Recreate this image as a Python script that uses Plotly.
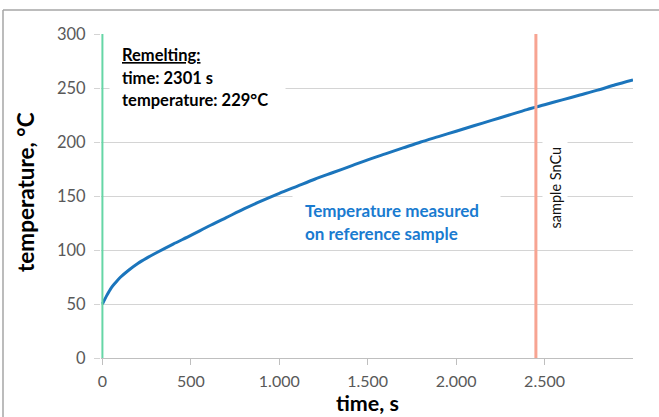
import plotly.graph_objects as go

# ---- data ----
time_s = [0, 25, 50, 75, 100, 150, 200, 250, 300, 400, 500, 600, 700, 800, 900,
          1000, 1100, 1200, 1300, 1400, 1500, 1600, 1700, 1800, 1900, 2000,
          2100, 2200, 2300, 2400, 2500, 2600, 2700, 2800, 2900, 3000]
temp_c = [50, 58, 65, 70, 74.5, 81.5, 87.5, 92.5, 97, 105.5, 113.5, 122, 130, 138, 145.5,
          152.5, 159, 165.5, 171.5, 177.5, 183.5, 189, 194.5, 200, 205, 210,
          215, 220, 225, 230, 234.5, 239, 243.5, 248, 253, 257.5]

remelt_time = 2301
remelt_temp = 229
remelt_marker_x = 0
sample_marker_x = 2451
sample_label = "sample SnCu"

x_tickvals = [0, 500, 1000, 1500, 2000, 2500]
x_ticktext = ["0", "500", "1.000", "1.500", "2.000", "2.500"]
y_tickvals = [0, 50, 100, 150, 200, 250, 300]

FONT = "Lato"
TICK_COLOR = "#595959"
GRID = "#d4d4d4"

fig = go.Figure()
fig.add_trace(go.Scatter(x=time_s, y=temp_c, mode="lines",
                         line=dict(color="#1b75bc", width=3, shape="spline", smoothing=0.8),
                         hoverinfo="skip", showlegend=False))

W, H = 659, 417
L, R, T, B = 101, 26, 34, 59
pw, ph = W - L - R, H - T - B
xmin, xmax, ymax = -8, 3000, 300

def px2x(px):
    return xmin + (px - L) / pw * (xmax - xmin)

def py2y(py):
    return (H - B - py) / ph * ymax

shapes = [
    dict(type="line", xref="x", yref="y", x0=remelt_marker_x, x1=remelt_marker_x, y0=0, y1=300,
         line=dict(color="#66d6a6", width=2)),
    dict(type="line", xref="x", yref="y", x0=sample_marker_x, x1=sample_marker_x, y0=0, y1=300,
         line=dict(color="#f7a492", width=3)),
    # outer frame (top and left visible)
    dict(type="line", xref="paper", yref="paper", x0=(3 - L) / pw, x1=(700 - L) / pw,
         y0=(H - B - 10) / ph, y1=(H - B - 10) / ph, line=dict(color="#a6a6a6", width=1.5)),
    dict(type="line", xref="paper", yref="paper", x0=(3 - L) / pw, x1=(3 - L) / pw,
         y0=(H - B - 10) / ph, y1=(H - B - 450) / ph, line=dict(color="#a6a6a6", width=1.5)),
]

annotations = []
# white boxes hiding the gridlines behind text boxes
def white_box(x0, y0, x1, y1):
    annotations.append(dict(x=px2x((x0 + x1) / 2), y=py2y((y0 + y1) / 2), xref="x", yref="y",
                            text=" ", showarrow=False, width=x1 - x0, height=y1 - y0,
                            bgcolor="white", borderpad=0, xanchor="center", yanchor="middle"))

white_box(110, 40, 285, 125)
white_box(293, 191, 500, 245)
white_box(543, 136, 567, 240)

def text(px, py, s, color="black", size=16.5, anchor="left", angle=0):
    annotations.append(dict(x=px2x(px), y=py2y(py), xref="x", yref="y", text=s, showarrow=False,
                            xanchor=anchor, yanchor="middle", textangle=angle,
                            font=dict(family=FONT, size=size, color=color)))

text(120, 55, "<b><u>Remelting:</u></b>")
text(120, 78, f"<b>time: {remelt_time} s</b>")
text(120, 100, f"<b>temperature: {remelt_temp}°C</b>")
text(303, 210, "<b>Temperature measured</b>", color="#1a7bd0", size=17)
text(303, 233, "<b>on reference sample</b>", color="#1a7bd0", size=17)
text(555, 187.5, sample_label, color="#111111", size=14.5, anchor="center", angle=-90)

# axis titles
annotations.append(dict(x=0.5, y=-(403 - (H - B)) / ph, xref="paper", yref="paper",
                        text="<b>time, s</b>", showarrow=False, xanchor="center", yanchor="middle",
                        font=dict(family=FONT, size=21.5, color="black")))
annotations.append(dict(x=(26 - L) / pw, y=(H - B - 192) / ph, xref="paper", yref="paper",
                        text="<b>temperature, °C</b>", showarrow=False, textangle=-90,
                        xanchor="center", yanchor="middle",
                        font=dict(family=FONT, size=22.5, color="black")))

fig.update_layout(
    width=W, height=H,
    margin=dict(l=L, r=R, t=T, b=B),
    paper_bgcolor="white", plot_bgcolor="white",
    font=dict(family=FONT, size=16.5, color=TICK_COLOR),
    shapes=shapes, annotations=annotations,
    xaxis=dict(range=[xmin, xmax], tickvals=x_tickvals, ticktext=x_ticktext,
               showgrid=False, zeroline=False, showline=True, linecolor="#bfbfbf", linewidth=1,
               ticks="outside", ticklen=6, tickcolor="#bfbfbf", ticklabelstandoff=3,
               tickfont=dict(family=FONT, size=16, color=TICK_COLOR), fixedrange=True),
    yaxis=dict(range=[0, ymax], tickvals=y_tickvals,
               showgrid=True, gridcolor=GRID, gridwidth=1, zeroline=False, showline=False,
               ticks="outside", ticklen=6, tickcolor=GRID, ticklabelstandoff=5,
               tickfont=dict(family=FONT, size=16.5, color=TICK_COLOR), fixedrange=True),
)

fig.write_html("out.html", config={"displayModeBar": False})
